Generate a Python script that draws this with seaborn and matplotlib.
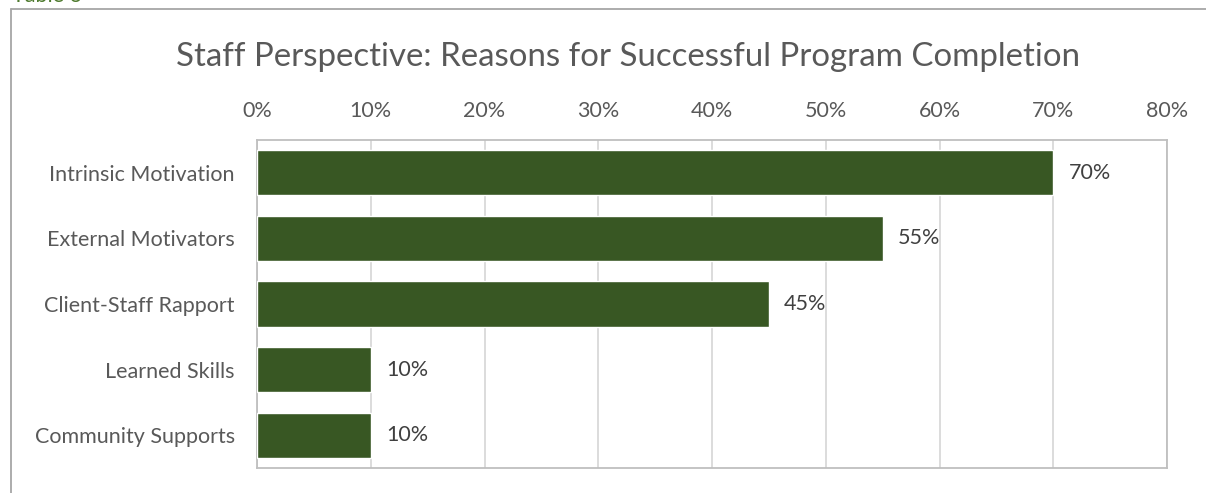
import matplotlib
matplotlib.use("Agg")
import matplotlib.pyplot as plt
from matplotlib.lines import Line2D
from matplotlib.ticker import FuncFormatter, MultipleLocator
import seaborn as sns
import pandas as pd

categories = ["Intrinsic Motivation", "External Motivators", "Client-Staff Rapport",
              "Learned Skills", "Community Supports"]
shares = [70, 55, 45, 10, 10]
title = "Staff Perspective: Reasons for Successful Program Completion"
caption = "Table 6"

bar_color = "#385723"
text_gray = "#595959"
font = ["Lato", "DejaVu Sans"]

sns.set_theme(style="white")
plt.rcParams["font.family"] = font

df = pd.DataFrame({"category": categories, "share": shares})

fig = plt.figure(figsize=(12.06, 4.93), dpi=100)
ax = fig.add_axes([257 / 1206, 1 - 468 / 493, 910 / 1206, 328 / 493])

sns.barplot(data=df, x="share", y="category", color=bar_color, width=0.69,
            saturation=1, ax=ax, zorder=3)

ax.set_xlim(0, 80)
ax.xaxis.set_major_locator(MultipleLocator(10))
ax.xaxis.set_major_formatter(FuncFormatter(lambda v, _: f"{v:.0f}%"))
ax.xaxis.tick_top()
ax.grid(axis="x", color="#D9D9D9", linewidth=1.3, zorder=0)
ax.set_xlabel("")
ax.set_ylabel("")
ax.tick_params(axis="both", length=0, labelsize=15.5, labelcolor=text_gray)
ax.tick_params(axis="x", pad=14)
ax.tick_params(axis="y", pad=16)
for s in ax.spines.values():
    s.set_visible(True)
    s.set_color("#BFBFBF")
    s.set_linewidth(1.3)

for i, v in enumerate(shares):
    ax.annotate(f"{v}%", xy=(v, i), xytext=(11, 0), textcoords="offset points",
                va="center", ha="left", fontsize=15.5, color="#404040")

fig.text(0.5205, 1 - 57 / 493, title, ha="center", va="center",
         fontsize=23.8, color=text_gray)

# outer frame of the chart (top and left edges)
fig.add_artist(Line2D([11 / 1206, 1], [1 - 9 / 493, 1 - 9 / 493],
                      transform=fig.transFigure, color="#A6A6A6", linewidth=1.3))
fig.add_artist(Line2D([11 / 1206, 11 / 1206], [0, 1 - 9 / 493],
                      transform=fig.transFigure, color="#A6A6A6", linewidth=1.3))
fig.text(12 / 1206, 1 - 2 / 493, caption, ha="left", va="baseline",
         fontsize=15.5, color="#4E7A2E")

fig.savefig("out.png", dpi=100)
